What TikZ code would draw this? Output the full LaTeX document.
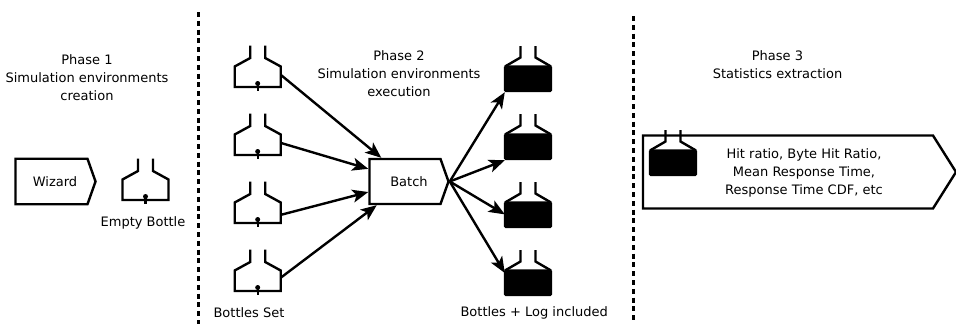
\documentclass[tikz,border=0pt]{standalone}
\usepackage{fontspec}
\setmainfont{DejaVu Sans}
\usepackage{tikz}
\usetikzlibrary{arrows.meta,shapes.symbols}
\tikzstyle{every node}=[font=\fontsize{13}{18}\selectfont]
\tikzstyle{title}=[align=center]
\tikzstyle{arrowbox}=[shape=signal,draw,line width=2.4pt,signal to=east,signal from=nowhere,inner sep=0pt,align=center]
\tikzstyle{bottlebox}=[inner sep=0pt,minimum width=46pt,minimum height=41pt]
\tikzstyle{fullbox}=[inner sep=0pt,minimum width=46pt,minimum height=46pt]
\tikzstyle{flow}=[-{Stealth[length=16pt,width=13pt,inset=4pt]},line width=2.4pt]
\tikzstyle{phase}=[line width=3pt,dash pattern=on 5pt off 3.8pt]
\tikzset{
    emptybottle/.pic={
        \draw[line width=2.4pt] (-7.5,-21) -- (-7.5,-8.5) -- (-23,0) -- (-23,20.5) -- (23,20.5) -- (23,0) -- (7.5,-8.5) -- (7.5,-21);
        \draw[line width=2.4pt] (0,17) -- (0,24);
        \fill (0,17) circle (2.5);
    },
    fullbottle/.pic={
        \draw[line width=2.4pt] (-7.5,-23) -- (-7.5,-11.5) -- (-23,-2.5) (23,-2.5) -- (7.5,-11.5) -- (7.5,-23);
        \fill[draw,line width=2.4pt,rounded corners=1pt] (-23,-2.5) rectangle (23,22);
    }
}
\begin{document}
\begin{tikzpicture}[x=1pt,y=-1pt]
            \useasboundingbox (0,0) rectangle (956,324);
            \draw[phase] (198,12) -- (198,324);
            \draw[phase] (633.5,16) -- (633.5,324);

            \node[title] (P1) at (87,78) {Phase 1\\Simulation environments\\creation};
            \node[title] (P2) at (399,74) {Phase 2\\Simulation environments\\execution};
            \node[title] (P3) at (777.5,65) {Phase 3\\Statistics extraction};

            \node[arrowbox,minimum width=80pt,minimum height=45.5pt,signal pointer angle=141] (W) at (51.5,181.5) {\hspace*{7pt}Wizard};
            \node[bottlebox] (E) at (145.5,179.5) {};
            \pic at (E) {emptybottle};
            \node (EL) at (143,222.5) {Empty Bottle};

            \node[arrowbox,minimum width=79pt,minimum height=45pt,signal pointer angle=141] (Batch) at (405,181.5) {\hspace*{8pt}Batch};

            \node[bottlebox] (S1) at (257.7,66.5) {};
            \pic at (S1) {emptybottle};
            \node[bottlebox] (S2) at (257.7,134.5) {};
            \pic at (S2) {emptybottle};
            \node[bottlebox] (S3) at (257.7,202.5) {};
            \pic at (S3) {emptybottle};
            \node[bottlebox] (S4) at (257.7,270.5) {};
            \pic at (S4) {emptybottle};
            \node[anchor=west] (SL) at (210,313) {Bottles Set};

            \node[fullbox] (F1) at (528,69) {};
            \pic at (F1) {fullbottle};
            \node[fullbox] (F2) at (528,137) {};
            \pic at (F2) {fullbottle};
            \node[fullbox] (F3) at (528,205) {};
            \pic at (F3) {fullbottle};
            \node[fullbox] (F4) at (528,273) {};
            \pic at (F4) {fullbottle};
            \node[anchor=west] (FL) at (457,313) {Bottles + Log included};

            \draw[flow] (S1.-20) -- (Batch.135);
            \draw[flow] (S2.-20) -- (Batch.161);
            \draw[flow] (S3.-28) -- (Batch.196);
            \draw[flow] (S4.-17) -- (Batch.220);
            \draw[flow] (Batch.east) -- (F1.south west);
            \draw[flow] (Batch.east) -- (F2.south west);
            \draw[flow] (Batch.east) -- (F3.202);
            \draw[flow] (Batch.east) -- (F4.180);

            \node[arrowbox,minimum width=313pt,minimum height=73pt,signal pointer angle=115.5] (X) at (788,172) {};
            \node[fullbox] (F5) at (673,153) {};
            \pic at (F5) {fullbottle};
            \node[title] (XT) at (804,173) {Hit ratio, Byte Hit Ratio,\\Mean Response Time,\\Response Time CDF, etc};
        \end{tikzpicture}
\end{document}
